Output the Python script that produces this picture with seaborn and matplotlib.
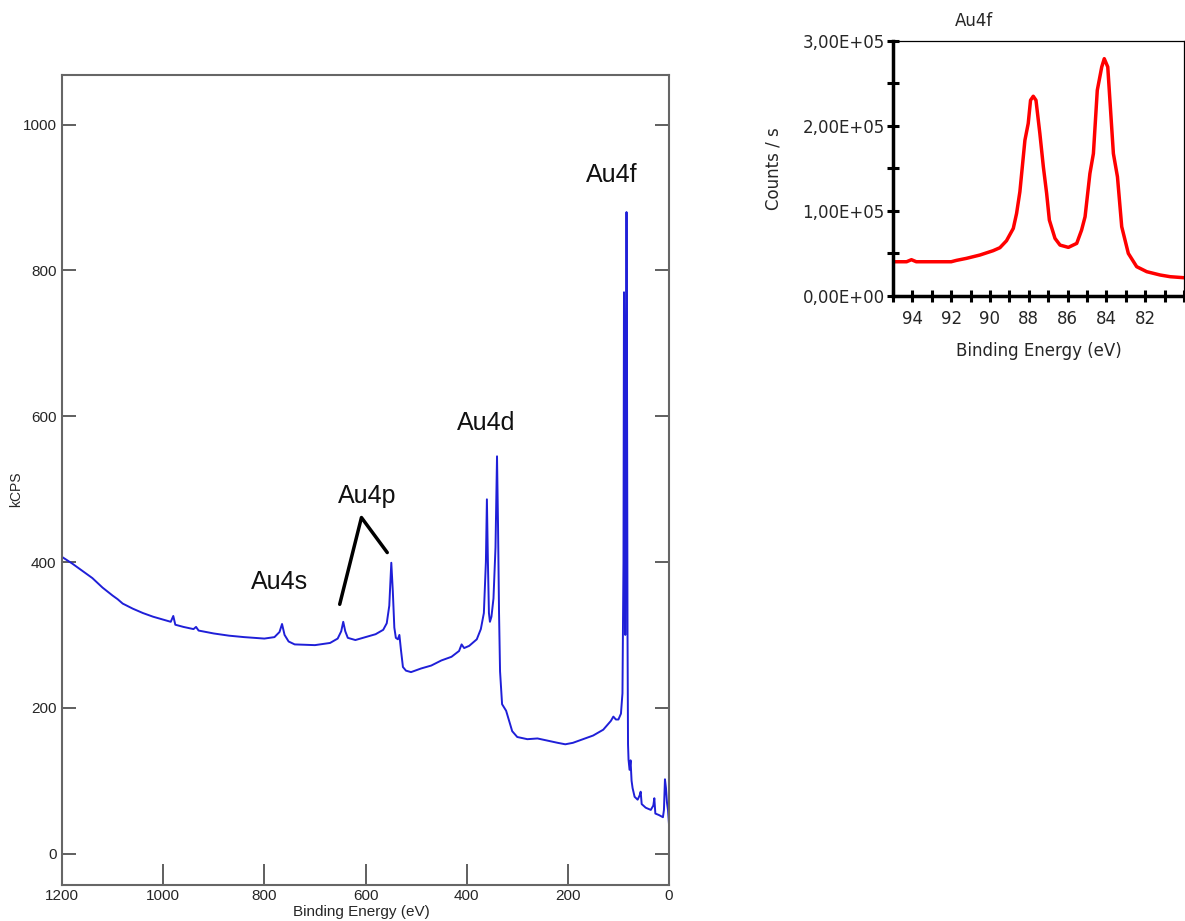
import numpy as np
import pandas as pd
import matplotlib
matplotlib.use("Agg")
import matplotlib.pyplot as plt
from matplotlib.ticker import FuncFormatter, MultipleLocator
import seaborn as sns

# survey spectrum (binding energy in eV, intensity in kCPS)
survey_be = [1200, 1180, 1160, 1140, 1120, 1100, 1090, 1080, 1060, 1040, 1020, 1000,
             985, 980, 976, 960, 940, 935, 930, 900, 870, 840, 800, 780, 770, 765,
             760, 752, 740, 700, 670, 655, 648, 644, 640, 635, 620, 600, 580, 565,
             558, 553, 549, 546, 543, 540, 536, 533, 530, 526, 520, 510, 490, 470,
             450, 430, 415, 410, 405, 395, 380, 372, 366, 362, 360, 358, 356, 354,
             351, 347, 343, 340, 338, 336, 334, 330, 322, 310, 300, 280, 260, 240,
             220, 205, 190, 170, 150, 130, 115, 110, 105, 100, 95, 92, 90, 89,
             87.5, 86.5, 85.5, 84, 83, 82, 81, 80, 78, 76, 74, 72, 68, 62, 58, 56,
             54, 46, 36, 31, 29, 27, 20, 12, 10, 8, 6, 4, 2, 0]
survey_kcps = [407, 398, 388, 378, 365, 354, 349, 343, 336, 330, 325, 321,
               318, 326, 314, 311, 308, 311, 306, 302, 299, 297, 295, 297, 304, 315,
               300, 291, 287, 286, 289, 295, 305, 318, 305, 296, 293, 297, 301, 307,
               316, 340, 399, 360, 310, 296, 294, 300, 280, 256, 251, 249, 254, 258,
               265, 270, 278, 287, 282, 285, 294, 308, 330, 400, 486, 400, 330, 318,
               325, 350, 420, 545, 450, 330, 250, 205, 196, 168, 160, 157, 158, 155,
               152, 150, 152, 157, 162, 170, 182, 188, 184, 184, 192, 220, 400, 770,
               600, 300, 500, 880, 650, 300, 150, 129, 115, 128, 100, 90, 78, 74, 80, 85,
               68, 63, 60, 66, 76, 55, 53, 50, 60, 102, 90, 70, 60, 40]

# Au4f high resolution spectrum
au4f_be = [95.0, 94.3, 94.05, 93.8, 92.0, 91.73, 91.21, 90.52, 89.84, 89.49, 89.15,
           88.8, 88.63, 88.46, 88.2, 88.03, 87.91, 87.77, 87.63, 87.43, 87.25, 87.08,
           86.94, 86.65, 86.39, 85.96, 85.53, 85.28, 85.1, 84.85, 84.67, 84.47, 84.24,
           84.11, 83.93, 83.64, 83.43, 83.21, 82.87, 82.44, 81.92, 81.23, 80.71, 80.0]
au4f_counts = [40300, 40300, 42700, 40300, 40300, 41900, 44300, 48200, 53300, 56800, 65000,
               79500, 97100, 122600, 183300, 203000, 230300, 235000, 230300, 191200, 152000, 120600,
               89300, 67800, 59900, 57200, 61900, 77500, 93200, 144100, 167600, 242000, 269500,
               279200, 269500, 167600, 140200, 81500, 50100, 34500, 28600, 24700, 22700, 21500]

# peak labels
peak_names = ["Au4f", "Au4d", "Au4p", "Au4s"]
peak_x = [113, 362, 596, 769]
peak_y = [931, 591, 490, 372]
au4p_line_x = [651, 608, 557]
au4p_line_y = [342, 461, 413]

survey = pd.DataFrame({"be": survey_be, "kcps": survey_kcps})
hires = pd.DataFrame({"be": au4f_be, "counts": au4f_counts})

sns.set_theme(style="ticks")
plt.rcParams['font.family'] = ['Liberation Sans', 'DejaVu Sans']

W, H = 1185, 921
fig = plt.figure(figsize=(W / 100, H / 100), dpi=100)

# --- main survey plot ---
ax = fig.add_axes([62 / W, 1 - 885 / H, (669 - 62) / W, (885 - 75) / H])
sns.lineplot(data=survey, x="be", y="kcps", ax=ax, color="#1f1fd8", lw=1.4,
             sort=False, estimator=None)
ax.plot(au4p_line_x, au4p_line_y, color="black", lw=2.5)
for name, px, py in zip(peak_names, peak_x, peak_y):
    ax.text(px, py, name, fontsize=18, ha="center", va="center", color="#111",
            family=["Liberation Sans"])

ax.set_xlim(1200, 0)
ax.set_ylim(-43, 1068)
ax.set_xticks([1200, 1000, 800, 600, 400, 200, 0])
ax.set_yticks([0, 200, 400, 600, 800, 1000])
ax.tick_params(axis="x", direction="in", length=15, width=1.2, color="#444",
               labelsize=11, pad=3)
ax.tick_params(axis="y", direction="in", length=10, width=1.2, color="#444",
               right=True, labelsize=11, pad=4)
for lab in ax.get_xticklabels() + ax.get_yticklabels():
    lab.set_family(["Liberation Sans"])
for sp in ax.spines.values():
    sp.set_color("#666")
    sp.set_linewidth(1.5)
ax.set_xlabel("Binding Energy (eV)", fontsize=11, family=["Liberation Sans"])
ax.set_ylabel("kCPS", fontsize=10, family=["Liberation Sans"])
ax.xaxis.set_label_coords(0.494, -0.0247)
ax.yaxis.set_label_coords(-0.064, 0.488)

# --- inset Au4f plot ---
axi = fig.add_axes([893 / W, 1 - 296 / H, 291 / W, 255 / H])
sns.lineplot(data=hires, x="be", y="counts", ax=axi, color="#ff0000", lw=2.5,
             sort=False, estimator=None)
axi.set_xlim(95, 80)
axi.set_ylim(0, 300000)
axi.xaxis.set_major_locator(MultipleLocator(2))
axi.xaxis.set_minor_locator(MultipleLocator(1))
axi.yaxis.set_major_locator(MultipleLocator(100000))
axi.yaxis.set_minor_locator(MultipleLocator(50000))
axi.set_xticks([94, 92, 90, 88, 86, 84, 82])
axi.yaxis.set_major_formatter(FuncFormatter(lambda v, p: f"{v:.2E}".replace(".", ",")))
axi.tick_params(axis="both", which="both", direction="inout", length=8, width=2.2,
                color="black")
axi.tick_params(axis="x", which="major", labelsize=12, pad=6)
axi.tick_params(axis="y", which="major", labelsize=12, pad=2)
for lab in axi.get_xticklabels() + axi.get_yticklabels():
    lab.set_family(["DejaVu Sans"])
for s in ["left", "bottom"]:
    axi.spines[s].set_linewidth(2.5)
    axi.spines[s].set_color("black")
for s in ["top", "right"]:
    axi.spines[s].set_linewidth(0.9)
    axi.spines[s].set_color("black")
axi.set_xlabel("Binding Energy (eV)", fontsize=12, family=["DejaVu Sans"])
axi.set_ylabel("Counts / s", fontsize=12, family=["DejaVu Sans"])
axi.xaxis.set_label_coords(0.5, -0.18)
axi.yaxis.set_label_coords(-0.381, 0.50)
axi.text(0.28, 1.08, "Au4f", transform=axi.transAxes, fontsize=12,
         ha="center", va="center", family=["DejaVu Sans"])

fig.savefig("out.png", dpi=100)
